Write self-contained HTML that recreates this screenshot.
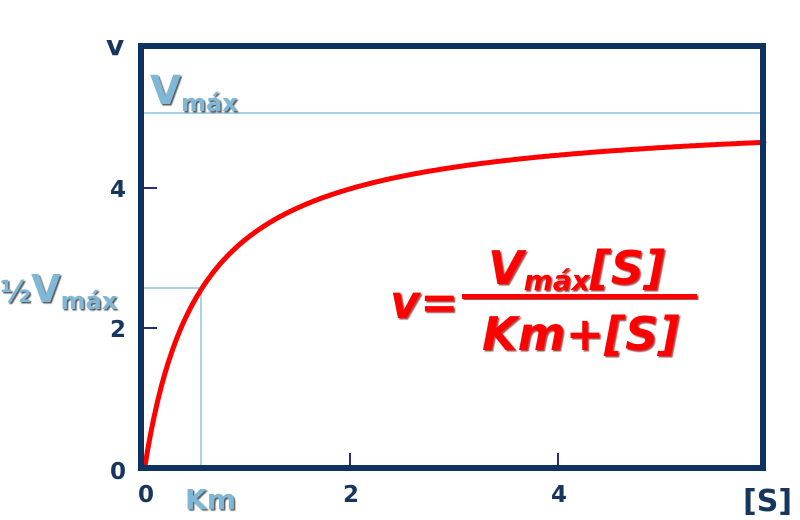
<!DOCTYPE html>
<html><head><meta charset="utf-8"><style>
html,body{margin:0;padding:0;background:#fff;}
svg{display:block;}
text{font-family:"DejaVu Sans","Liberation Sans",sans-serif;font-weight:bold;}
</style></head><body>
<svg id="s" width="800" height="520" viewBox="0 0 800 520" xmlns="http://www.w3.org/2000/svg">
<defs>
<filter id="sh" x="-10%" y="-10%" width="130%" height="130%"><feDropShadow dx="1.5" dy="1.5" stdDeviation="0.6" flood-color="#333" flood-opacity="0.8"/></filter>
<filter id="shr" x="-10%" y="-10%" width="130%" height="130%"><feDropShadow dx="1.5" dy="1.5" stdDeviation="0.6" flood-color="#800" flood-opacity="0.7"/></filter>
</defs>
<line x1="141" y1="113" x2="763" y2="113" stroke="#8cc3de" stroke-width="1.5"/>
<line x1="141" y1="288" x2="201" y2="288" stroke="#8cc3de" stroke-width="1.5"/>
<line x1="201" y1="288" x2="201" y2="466" stroke="#8cc3de" stroke-width="1.5"/>
<g stroke="#2a2a80" stroke-width="2">
<line x1="144" y1="188" x2="157" y2="188"/>
<line x1="144" y1="328" x2="157" y2="328"/>
<line x1="350" y1="453" x2="350" y2="466"/>
<line x1="558" y1="453" x2="558" y2="466"/>
</g>
<path id="curve" d="" fill="none" stroke="#ff0000" stroke-width="5" stroke-linecap="round"/>
<rect x="141" y="46" width="622" height="422" fill="none" stroke="#0e3360" stroke-width="6"/>
<g fill="#17365d">
<text x="106" y="55" font-size="28">v</text>
<text x="118" y="197" text-anchor="middle" font-size="23">4</text>
<text x="118" y="337" text-anchor="middle" font-size="23">2</text>
<text x="118" y="479" text-anchor="middle" font-size="23">0</text>
<text x="146" y="502" text-anchor="middle" font-size="23">0</text>
<text x="351" y="502" text-anchor="middle" font-size="23">2</text>
<text x="559" y="502" text-anchor="middle" font-size="23">4</text>
<text x="743" y="511" font-size="30">[S]</text>
</g>
<g fill="#7fb7d6" filter="url(#sh)">
<text x="150" y="104" font-size="40">V<tspan font-size="24" dy="7">máx</tspan></text>
<text x="0" y="302" font-size="38"><tspan font-size="30">½</tspan>V<tspan font-size="24" dy="7">máx</tspan></text>
<text x="185" y="509" font-size="28">Km</text>
</g>
<g fill="#ff0000" font-style="italic" filter="url(#shr)">
<text x="390" y="318" font-size="46">v=</text>
<text x="488" y="284" font-size="46">V<tspan font-size="28" dy="6">máx</tspan><tspan dy="-6">[S]</tspan></text>
<text x="482" y="350" font-size="46">Km+[S]</text>
</g>
<rect x="462" y="294" width="235" height="5" fill="#ff0000" filter="url(#shr)"/>
</svg>
<script>
var d="",X0=145,sx=104,Y0=466,sy=69.5,V=5.08,K=0.54;
for(var i=0;i<=400;i++){var x=Math.pow(i/400,2)*5.95;var v=V*x/(K+x);d+=(i?"L":"M")+(X0+x*sx).toFixed(1)+" "+(Y0-v*sy).toFixed(1);}
document.getElementById("curve").setAttribute("d",d);
</script>
</body></html>
